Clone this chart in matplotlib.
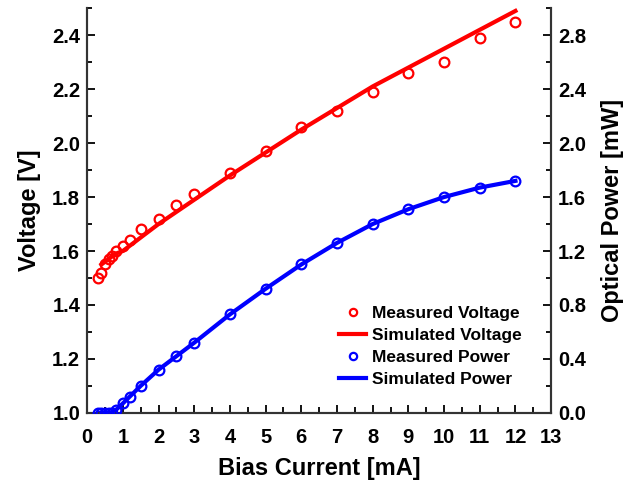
import matplotlib
matplotlib.use("Agg")
import matplotlib.pyplot as plt
from matplotlib.ticker import MultipleLocator, FormatStrFormatter

plt.rcParams['font.family'] = ['Liberation Sans', 'DejaVu Sans']
plt.rcParams['font.weight'] = 'bold'

# --- datos ---
meas_i = [0.3, 0.4, 0.5, 0.6, 0.7, 0.8, 1.0, 1.2, 1.5, 2, 2.5, 3, 4, 5, 6, 7, 8, 9, 10, 11, 12]
meas_v = [1.50, 1.52, 1.55, 1.57, 1.58, 1.60, 1.62, 1.64, 1.68, 1.72, 1.77, 1.81, 1.89, 1.97,
          2.06, 2.12, 2.19, 2.26, 2.30, 2.39, 2.45]
meas_p = [0.0, 0.0, 0.0, 0.0, 0.0, 0.02, 0.07, 0.12, 0.20, 0.32, 0.42, 0.52, 0.73, 0.92,
          1.10, 1.26, 1.40, 1.51, 1.60, 1.67, 1.72]

sim_i_v = [0.4, 0.6, 0.8, 1, 1.5, 2, 3, 4, 5, 6, 7, 8, 9, 10, 11, 12]
sim_v = [1.55, 1.57, 1.59, 1.60, 1.65, 1.70, 1.79, 1.88, 1.965, 2.05, 2.13, 2.21, 2.28,
         2.35, 2.42, 2.49]

sim_i_p = [0.3, 0.7, 0.8, 1, 1.5, 2, 3, 4, 5, 6, 7, 8, 9, 10, 11, 12]
sim_p = [0.0, 0.0, 0.02, 0.07, 0.20, 0.32, 0.52, 0.73, 0.92, 1.10, 1.26, 1.40, 1.51,
         1.60, 1.67, 1.72]

fig, ax = plt.subplots(figsize=(6.27, 4.84), dpi=100)
fig.subplots_adjust(left=0.139, right=0.879, top=0.983, bottom=0.147)
ax2 = ax.twinx()

h1, = ax.plot(meas_i, meas_v, 'o', mfc='none', mec='red', ms=7, mew=1.6,
              label='Measured Voltage', zorder=3)
h2, = ax.plot(sim_i_v, sim_v, '-', color='red', lw=3, label='Simulated Voltage')
h3, = ax2.plot(meas_i, meas_p, 'o', mfc='none', mec='blue', ms=7, mew=1.6,
               label='Measured Power', zorder=3)
h4, = ax2.plot(sim_i_p, sim_p, '-', color='blue', lw=3, label='Simulated Power')

ax.set_xlim(0, 13)
ax.set_ylim(1.0, 2.5)
ax2.set_ylim(0, 3.0)

ax.xaxis.set_major_locator(MultipleLocator(1))
ax.xaxis.set_minor_locator(MultipleLocator(0.5))
ax.yaxis.set_major_locator(MultipleLocator(0.2))
ax.yaxis.set_minor_locator(MultipleLocator(0.1))
ax2.yaxis.set_major_locator(MultipleLocator(0.4))
ax2.yaxis.set_minor_locator(MultipleLocator(0.2))
ax.yaxis.set_major_formatter(FormatStrFormatter('%.1f'))
ax2.yaxis.set_major_formatter(FormatStrFormatter('%.1f'))

for a in (ax, ax2):
    a.spines['top'].set_visible(False)
    for s in a.spines.values():
        s.set_linewidth(1.5)
        s.set_color('#333333')
    a.tick_params(which='major', direction='in', length=6, width=1.3, labelsize=14.5)
    a.tick_params(which='minor', direction='in', length=3.5, width=1.3)
ax.tick_params(axis='y', right=False, pad=5)
ax.tick_params(axis='x', top=False, pad=11)
ax.tick_params(axis='x', which='minor', length=4.5)
ax2.tick_params(axis='y', pad=5)

ax.set_xlabel('Bias Current [mA]', fontsize=17, fontweight='bold', labelpad=7)
ax.set_ylabel('Voltage [V]', fontsize=17, fontweight='bold', labelpad=8)
ax2.set_ylabel('Optical Power [mW]', fontsize=17, fontweight='bold', labelpad=11)

ax2.legend(handles=[h1, h2, h3, h4], loc='lower left', bbox_to_anchor=(0.51, 0.025),
           frameon=False, fontsize=12.5, handlelength=1.55, handletextpad=0.35,
           labelspacing=0.4, markerscale=0.75)

fig.savefig('out.png', dpi=100)
